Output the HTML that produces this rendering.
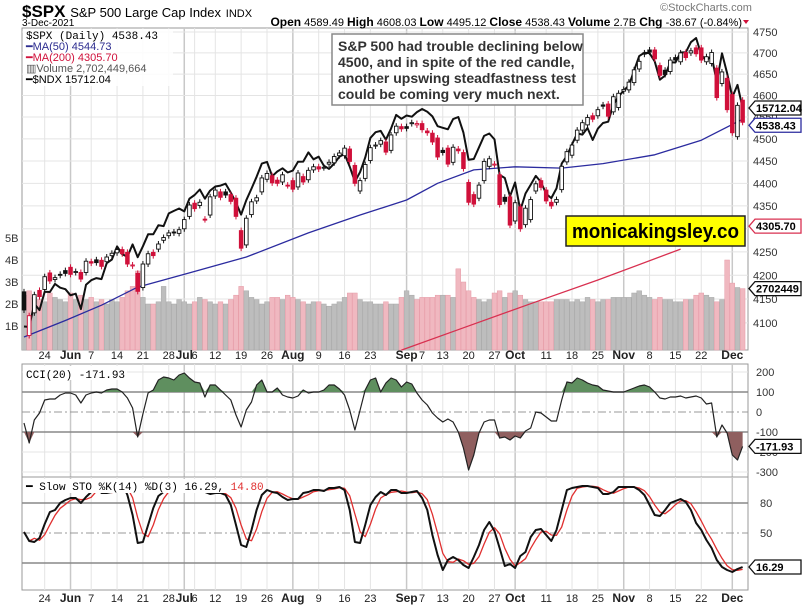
<!DOCTYPE html>
<html><head><meta charset="utf-8"><style>
body{margin:0;background:#fff;}
svg{display:block;font-family:"Liberation Sans",sans-serif;}
</style></head><body>
<svg id="chart" width="803" height="606" viewBox="0 0 803 606">
<g id="grid"></g>
<g id="vol"></g>
<g id="lines"></g>
<g id="candles"></g>
<g id="ind"></g>
<g id="labels"></g>
<text x="22" y="17" font-size="17" font-weight="bold">$SPX <tspan font-size="13" font-weight="normal">S&amp;P 500 Large Cap Index</tspan> <tspan font-size="11" font-weight="normal">INDX</tspan></text>
<text x="22" y="26" font-size="10">3-Dec-2021</text>
<text x="660" y="11" font-size="11" fill="#777">©StockCharts.com</text>
<text x="742" y="26" font-size="11" text-anchor="end"><tspan font-weight="bold" font-size="12">Open</tspan> 4589.49 <tspan font-weight="bold" font-size="12">High</tspan> 4608.03 <tspan font-weight="bold" font-size="12">Low</tspan> 4495.12 <tspan font-weight="bold" font-size="12">Close</tspan> 4538.43 <tspan font-weight="bold" font-size="12">Volume</tspan> 2.7B <tspan font-weight="bold" font-size="12">Chg</tspan> -38.67 (-0.84%)</text>
<path d="M743,20 l6,0 l-3,4z" fill="#d0103a"/>
<g font-size="11" font-family="'Liberation Mono',monospace">
<rect x="23" y="29" width="150" height="57" fill="#fff" opacity="0.85"/>
<text x="26" y="39">$SPX (Daily) 4538.43</text>
<text x="26" y="50" fill="#2b2b8f" font-family="'Liberation Sans',sans-serif">━MA(50) 4544.73</text>
<text x="26" y="61" fill="#d0103a" font-family="'Liberation Sans',sans-serif">━MA(200) 4305.70</text>
<text x="26" y="72" fill="#555" font-family="'Liberation Sans',sans-serif">▥Volume 2,702,449,664</text>
<text x="26" y="83" font-family="'Liberation Sans',sans-serif">━$NDX 15712.04</text>
</g>
<g>
<rect x="332" y="34" width="251" height="71" fill="#fff" stroke="#888" stroke-width="1.5"/>
<text x="338" y="51" font-size="14" font-weight="bold" fill="#333"><tspan x="338">S&amp;P 500 had trouble declining below</tspan><tspan x="338" dy="16">4500, and in spite of the red candle,</tspan><tspan x="338" dy="16">another upswing steadfastness test</tspan><tspan x="338" dy="16">could be coming very much next.</tspan></text>
</g>
<g>
<rect x="566" y="216" width="179" height="30" fill="#ffff00" stroke="#222" stroke-width="1.5"/>
<text x="572" y="238" font-size="20" font-weight="bold" textLength="167" lengthAdjust="spacingAndGlyphs">monicakingsley.co</text>
</g>
<rect x="23" y="366" width="104" height="14" fill="#fff"/>
<text x="26" y="378" font-size="11" font-family="'Liberation Mono',monospace">CCI(20) -171.93</text>
<script>/* placeholder */</script>
</svg>
<script>
const opens=[4165,4074,4121,4168,4170,4205,4191,4202,4210,4217,4206,4206,4206,4229,4233,4232,4229,4242,4248,4255,4249,4220,4204,4174,4224,4249,4256,4275,4285,4293,4290,4300,4327,4356,4351,4321,4330,4372,4381,4381,4375,4367,4296,4265,4331,4361,4381,4409,4417,4407,4403,4396,4406,4392,4415,4408,4430,4437,4435,4443,4446,4462,4462,4477,4440,4383,4411,4451,4484,4488,4493,4474,4514,4528,4528,4535,4532,4535,4518,4513,4502,4474,4479,4447,4477,4469,4402,4375,4367,4406,4438,4442,4419,4369,4370,4317,4348,4309,4320,4383,4406,4385,4358,4358,4386,4448,4463,4497,4520,4532,4553,4553,4578,4580,4562,4572,4610,4613,4630,4662,4700,4707,4707,4670,4659,4656,4689,4679,4701,4700,4712,4712,4679,4675,4664,4628,4640,4602,4505,4589];
const closes=[4127,4115,4159,4155,4197,4188,4195,4200,4204,4202,4208,4192,4230,4226,4227,4219,4239,4247,4255,4246,4224,4222,4166,4224,4246,4242,4267,4281,4291,4291,4298,4320,4352,4344,4358,4320,4370,4385,4369,4374,4360,4327,4258,4323,4359,4368,4412,4422,4401,4400,4419,4395,4387,4423,4403,4429,4437,4432,4436,4447,4460,4468,4479,4449,4400,4406,4442,4480,4486,4496,4470,4509,4529,4523,4524,4537,4535,4521,4514,4493,4459,4469,4443,4481,4473,4433,4358,4354,4396,4449,4455,4443,4353,4360,4308,4357,4300,4345,4364,4399,4391,4361,4350,4364,4438,4471,4486,4520,4537,4549,4545,4567,4575,4552,4597,4605,4614,4631,4660,4680,4697,4702,4686,4647,4649,4683,4683,4700,4689,4705,4698,4683,4691,4701,4595,4655,4567,4514,4577,4538];
const ndx=[13303,13299,13535,13470,13661,13657,13742,13702,13687,13623,13640,13481,13733,13781,13803,13792,13960,14000,14140,14056,14030,14162,14024,14141,14271,14272,14370,14360,14500,14528,14554,14522,14663,14705,14766,14663,14754,14800,14810,14832,14731,14620,14487,14647,14777,14910,15060,15080,14917,14970,15007,14959,14981,15081,15083,15190,15110,15140,15036,15000,15060,15140,15172,15026,14856,14964,15129,15358,15425,15440,15337,15470,15630,15583,15623,15608,15663,15700,15667,15612,15496,15477,15459,15580,15605,15421,15104,15113,15249,15382,15410,15341,14932,14896,14690,14845,14533,14721,14820,14920,14850,14717,14670,14779,15060,15150,15282,15411,15397,15475,15334,15468,15534,15549,15751,15849,15921,15984,16169,16346,16388,16380,16280,16054,16106,16268,16266,16390,16393,16519,16573,16362,16292,16348,16025,16381,16135,15842,15991,15712];
const volumes=[2.4,2.6,2.3,2.2,2.1,2.5,2.3,2.2,2.1,2.5,2.2,2.4,2.2,2.3,2.1,2.2,2.0,2.2,2.1,2.3,2.6,2.8,3.5,2.3,2.0,2.0,2.1,2.8,2.1,2.0,2.2,2.1,2.0,2.1,2.3,2.2,2.1,2.0,2.1,2.0,2.2,2.4,2.8,2.6,2.3,2.2,2.0,2.1,2.3,2.3,2.2,2.4,2.3,2.2,2.1,2.0,2.1,2.1,2.0,1.9,2.0,2.1,2.3,2.5,2.5,2.2,2.1,2.1,2.0,2.0,2.1,2.0,2.0,2.3,2.6,2.4,2.2,2.3,2.3,2.3,2.4,2.4,2.4,2.3,3.6,3.0,2.6,2.3,2.2,2.1,2.2,2.5,2.6,2.3,2.5,2.6,2.4,2.2,2.1,2.1,2.1,2.1,2.1,2.2,2.2,2.2,2.1,2.2,2.1,2.3,2.2,2.1,2.2,2.2,2.3,2.3,2.3,2.3,2.5,2.6,2.4,2.3,2.2,2.3,2.2,2.2,2.1,2.1,2.2,2.2,2.4,2.5,2.4,2.3,2.1,2.2,4.0,2.95,2.75,2.7];
const ma50Idx=[0,8,15,22,32,43,55,65,74,80,87,95,104,112,122,131,139];
const ma50Val=[4071,4105,4137,4175,4205,4239,4291,4330,4363,4400,4430,4437,4434,4444,4464,4497,4545];
const ma200Idx=[73,85,98,111,127];
const ma200Val=[4044,4090,4140,4190,4256];
const cci=[-55,-155,-40,-5,60,65,65,85,95,95,85,45,85,95,100,95,110,115,115,100,70,20,-125,-10,95,110,160,175,170,160,185,195,170,150,145,75,135,135,110,85,60,-15,-75,10,50,135,160,100,100,120,85,75,70,80,110,95,100,100,110,135,135,115,85,10,-90,10,110,160,170,100,145,170,160,125,150,140,95,60,35,-5,-30,-50,-35,-50,-100,-180,-290,-215,-105,-50,-40,-40,-130,-125,-140,-120,-130,-95,-80,0,-5,-25,-45,-45,60,150,145,170,160,145,135,130,110,105,100,100,100,110,120,130,135,125,100,70,65,75,75,80,70,75,80,70,40,45,-125,-65,-105,-215,-240,-172];
const stoK=[51,42,41,45,59,71,73,80,83,85,85,80,86,91,98,90,90,91,98,100,88,68,40,41,58,75,87,91,96,99,100,100,100,100,100,91,89,90,90,88,78,58,38,36,53,73,88,93,91,90,86,83,84,84,90,91,93,93,92,95,95,96,93,73,41,40,58,78,86,91,88,93,93,90,90,91,92,85,73,48,28,13,23,26,23,18,15,26,38,53,61,52,35,17,19,15,27,31,46,53,54,48,42,53,73,93,95,96,97,97,96,95,89,89,91,96,96,96,96,93,88,78,68,67,73,80,82,84,81,73,60,53,43,35,23,16,13,11,14,16];
const priceTicks=[4100,4150,4200,4250,4300,4350,4400,4450,4500,4550,4600,4650,4700,4750];
const volTicks=[1,2,3,4,5];
const cciTicks=[200,100,0,-100,-200,-300];
const stoTicks=[80,50,20];
const dateLabels=["24","Jun","7","14","21","28","Jul","6","12","19","26","Aug","9","16","23","Sep","7","13","20","27","Oct","11","18","25","Nov","8","15","22","Dec"];
const dateIdx=[4,9,13,18,23,28,31,33,37,42,47,52,57,62,67,74,77,81,86,91,95,101,106,111,116,121,126,131,137];

const NS="http://www.w3.org/2000/svg";
const L=22,R=748;
const X=i=>24+5.17*i;
const Y=p=>32+1977*Math.log(4750/p);
const YV=v=>348-22*v;
const YN=v=>108+1313*Math.log(15712/v);
const YC=v=>412-0.2*v;
const YS=v=>583-v;
function mk(parent,tag,attrs){const e=document.createElementNS(NS,tag);for(const k in attrs)e.setAttribute(k,attrs[k]);document.getElementById(parent).appendChild(e);return e;}
function txt(parent,x,y,s,attrs){const e=mk(parent,'text',Object.assign({x:x,y:y,'font-size':11},attrs||{}));e.textContent=s;return e;}

const panels=[[28,350],[364,477],[477,590]];
panels.forEach((p,k)=>{
  const r=mk('grid','rect',{x:L,y:p[0],width:R-L,height:p[1]-p[0],fill:'#fff',stroke:'#999','stroke-width':1});
  
  
  dateIdx.forEach((d,j)=>{
    const month=isNaN(+dateLabels[j]);
    const g=mk('grid','line',{x1:X(d),x2:X(d),y1:p[0],y2:p[1],stroke:month?'#c8c8c8':'#e4e4e4','stroke-width':month?1.5:1});
    
    
  });
});
priceTicks.forEach(t=>{
  const g=mk('grid','line',{x1:L,x2:R,y1:Y(t),y2:Y(t),stroke:'#e4e4e4'});
  
  
  const l=txt('labels',753,Y(t)+4,String(t),{fill:'#333'});
  
  
});
volTicks.forEach(t=>{
  const l=txt('labels',5,YV(t)+4,t+'B',{fill:'#333'});
  
  
});
cciTicks.forEach(t=>{
  if(t===100||t===-100){const g=mk('grid','line',{x1:L,x2:R,y1:YC(t),y2:YC(t),stroke:'#888','stroke-width':1.5});}
  else if(t===0){const g=mk('grid','line',{x1:L,x2:R,y1:YC(t),y2:YC(t),stroke:'#999','stroke-dasharray':'8,3,2,3'});}
  else {const g=mk('grid','line',{x1:L,x2:R,y1:YC(t),y2:YC(t),stroke:'#e4e4e4'});}
  const l=txt('labels',756,YC(t)+4,String(t),{fill:'#333'});
  
  
});
stoTicks.forEach(t=>{
  const g=mk('grid','line',{x1:L,x2:R,y1:YS(t),y2:YS(t),stroke:t===50?'#999':'#888','stroke-width':t===50?1:1.5,'stroke-dasharray':t===50?'8,3,2,3':'none'});
  
  
  const l=txt('labels',760,YS(t)+4,String(t),{fill:'#333'});
  
  
});
[355,598].forEach(yy=>{
  dateLabels.forEach((s,j)=>{
    const month=isNaN(+s);
    const l=txt('labels',X(dateIdx[j]),yy+4,s,{'text-anchor':'middle','font-weight':month?'bold':'normal','font-size':month?12:11,fill:'#222'});
    
    
  });
});

volumes.forEach((v,i)=>{
  const down=i>0&&closes[i]<closes[i-1];
  const b=mk('vol','rect',{x:X(i)-2.4,y:YV(v),width:4.8,height:348-YV(v)+2,fill:down?'#f0b8c0':'#bdbdbd',stroke:down?'#e69aa6':'#a8a8a8','stroke-width':0.5});
  
  
});

function poly(parent,pts,color,w,name){
  const e=mk(parent,'polyline',{points:pts.map(p=>p[0].toFixed(1)+','+p[1].toFixed(1)).join(' '),fill:'none',stroke:color,'stroke-width':w,'stroke-linejoin':'round'});
  
  
  return e;
}
poly('lines',ma200Idx.map((d,j)=>[X(d),Y(ma200Val[j])]),'#d83050',1.3,'ma200-line');
poly('lines',ma50Idx.map((d,j)=>[X(d),Y(ma50Val[j])]),'#2b2b9f',1.3,'ma50-line');
poly('lines',ndx.map((v,i)=>[X(i),YN(v)]),'#111',2,'ndx-line');

closes.forEach((c,i)=>{
  const o=opens[i];
  const down=i>0&&c<closes[i-1];
  const col=down?'#d0103a':'#111';
  const top=Y(Math.max(o,c)),bot=Y(Math.min(o,c));
  const w=mk('candles','line',{x1:X(i),x2:X(i),y1:top-3,y2:bot+3,stroke:col,'stroke-width':1});
  
  
  const b=mk('candles','rect',{x:X(i)-1.8,y:top,width:3.6,height:Math.max(1,bot-top),fill:c<o?col:'#fff',stroke:col,'stroke-width':0.9});
  
  
});

function fillArea(thr,above,color,name){
  let d='';
  for(let i=0;i<cci.length-1;i++){
    const a=cci[i],b=cci[i+1];
    const ca=above?Math.max(a,thr):Math.min(a,thr),cb=above?Math.max(b,thr):Math.min(b,thr);
    d+=`M${X(i)},${YC(thr)}L${X(i)},${YC(ca)}L${X(i+1)},${YC(cb)}L${X(i+1)},${YC(thr)}Z`;
  }
  const e=mk('ind','path',{d:d,fill:color,stroke:'none'});
  
  
}
fillArea(100,true,'#5f8f5f','cci-overbought-fill');
fillArea(-100,false,'#8f5f5f','cci-oversold-fill');
poly('ind',cci.map((v,i)=>[X(i),YC(v)]),'#222',1.2,'cci-line');

const stoD=stoK.map((v,i)=>i<2?v:(stoK[i]+stoK[i-1]+stoK[i-2])/3);
poly('ind',stoD.map((v,i)=>[X(i),YS(v)]),'#e03030',1.3,'sto-d-line');
poly('ind',stoK.map((v,i)=>[X(i),YS(v)]),'#111',2,'sto-k-line');

// STO legend on top of lines
const sbg=mk('ind','rect',{x:23,y:479,width:236,height:14,fill:'#fff'});


const st=txt('ind',26,490,'━ Slow STO %K(14) %D(3) 16.29, ',{'font-family':"'Liberation Mono',monospace"});


const st2=document.createElementNS(NS,'tspan');st2.setAttribute('fill','#e03030');st2.textContent='14.80';st.appendChild(st2);

function tag(y,s,color,name){
  const g=document.createElementNS(NS,'g');document.getElementById('labels').appendChild(g);
  
  
  const p=document.createElementNS(NS,'path');
  p.setAttribute('d',`M749,${y} l6,-7 h46 v14 h-46z`);p.setAttribute('fill','#fff');p.setAttribute('stroke',color);p.setAttribute('stroke-width','1.3');g.appendChild(p);
  const t=document.createElementNS(NS,'text');t.setAttribute('x',756);t.setAttribute('y',y+4);t.setAttribute('font-size','11');t.setAttribute('font-weight','bold');t.textContent=s;g.appendChild(t);
}
tag(YN(ndx[ndx.length-1]),'15712.04','#111','ndx-value-tag');
tag(Y(closes[closes.length-1])+3,'4538.43','#2b2b9f','price-value-tag');
tag(Y(4305.7),'4305.70','#d83050','ma200-value-tag');
tag(YV(volumes[volumes.length-1]),'2702449','#111','volume-value-tag');
tag(YC(cci[cci.length-1]),'-171.93','#111','cci-value-tag');
tag(YS(stoK[stoK.length-1]),'16.29','#111','sto-value-tag');
</script>
</body></html>
